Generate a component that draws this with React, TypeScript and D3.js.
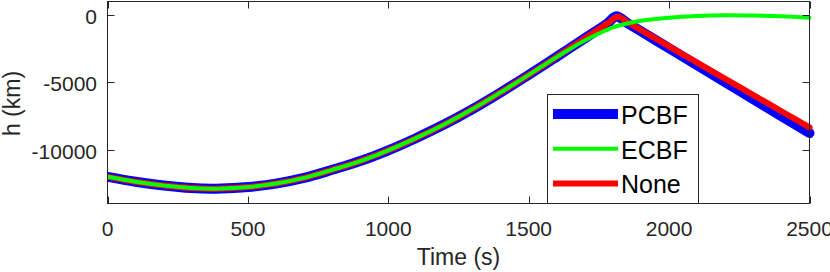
import React, { useEffect, useRef } from "react";
import * as d3 from "d3";

// PCBF trajectory
const pcbfTime = [0, 100, 200, 300, 370, 450, 500, 600, 700, 800, 900, 1000, 1100, 1200, 1300, 1400, 1500, 1600, 1700, 1780, 1812, 1850, 1900, 2000, 2100, 2200, 2300, 2400, 2500];
const pcbfH = [-12020, -12380, -12660, -12850, -12900, -12850, -12780, -12520, -12100, -11500, -10850, -10050, -9130, -8120, -6990, -5750, -4450, -3100, -1730, -640, -100, -580, -1210, -2470, -3730, -4990, -6250, -7510, -8770];

// ECBF trajectory
const ecbfTime = [0, 100, 200, 300, 370, 450, 500, 600, 700, 800, 900, 1000, 1100, 1200, 1300, 1400, 1500, 1550, 1600, 1650, 1700, 1750, 1800, 1850, 1900, 2000, 2100, 2200, 2300, 2400, 2500];
const ecbfH = [-12020, -12380, -12660, -12850, -12900, -12850, -12780, -12520, -12100, -11500, -10850, -10050, -9130, -8120, -6990, -5750, -4450, -3780, -3120, -2490, -1900, -1380, -920, -630, -430, -200, -70, -20, -40, -100, -200];

// no filter
const noneTime = [0, 100, 200, 300, 370, 450, 500, 600, 700, 800, 900, 1000, 1100, 1200, 1300, 1400, 1500, 1600, 1700, 1780, 1818, 1850, 1900, 2000, 2100, 2200, 2300, 2400, 2500];
const noneH = [-12020, -12380, -12660, -12850, -12900, -12850, -12780, -12520, -12100, -11500, -10850, -10050, -9130, -8120, -6990, -5750, -4450, -3100, -1730, -640, -130, -520, -1120, -2330, -3540, -4740, -5950, -7150, -8350];

const xTicks = [0, 500, 1000, 1500, 2000, 2500];
const yTicks = [0, -5000, -10000];
const legendNames = ["PCBF", "ECBF", "None"];

const W = 830;
const H = 272;
const left = 107.5, right = 809.5, top = 1.5, bottom = 203.5;
const axisColor = "#262626";
const font = "'Liberation Sans', Arial, sans-serif";

const App = () => {
  const ref = useRef<SVGSVGElement>(null);

  useEffect(() => {
    const svg = d3.select(ref.current);
    svg.selectAll("*").remove();

    const x = d3.scaleLinear().domain([0, 2500]).range([left, right]);
    const y = d3.scaleLinear().domain([-14000, 1000]).range([bottom, top]);

    svg.append("defs").append("clipPath").attr("id", "plotclip")
      .append("rect").attr("x", left).attr("y", 0).attr("width", W - left).attr("height", H);

    const line = d3.line<[number, number]>()
      .x(d => x(d[0]))
      .y(d => y(d[1]))
      .curve(d3.curveCatmullRom.alpha(0.5));

    const series = [
      { name: "PCBF", t: pcbfTime, h: pcbfH, color: "#0000ff", width: 10 },
      { name: "None", t: noneTime, h: noneH, color: "#ff0000", width: 6 },
      { name: "ECBF", t: ecbfTime, h: ecbfH, color: "#00ff00", width: 4 }
    ];

    const g = svg.append("g").attr("clip-path", "url(#plotclip)");
    series.forEach(s => {
      g.append("path")
        .datum(s.t.map((t, i) => [t, s.h[i]] as [number, number]))
        .attr("d", line)
        .attr("fill", "none")
        .attr("stroke", s.color)
        .attr("stroke-width", s.width)
        .attr("stroke-linejoin", "round")
        .attr("stroke-linecap", "round");
    });

    // axes box
    const ax = svg.append("g").attr("stroke", axisColor).attr("stroke-width", 1).attr("fill", "none");
    ax.append("rect").attr("x", left).attr("y", top).attr("width", right - left).attr("height", bottom - top);
    xTicks.forEach(t => {
      const px = Math.round(x(t)) + 0.5;
      ax.append("line").attr("x1", px).attr("x2", px).attr("y1", bottom).attr("y2", bottom - 7);
      ax.append("line").attr("x1", px).attr("x2", px).attr("y1", top).attr("y2", top + 7);
    });
    yTicks.forEach(v => {
      const py = Math.round(y(v)) + 0.5;
      ax.append("line").attr("x1", left).attr("x2", left + 7).attr("y1", py).attr("y2", py);
      ax.append("line").attr("x1", right).attr("x2", right - 7).attr("y1", py).attr("y2", py);
    });

    const txt = svg.append("g").attr("font-family", font).attr("fill", axisColor);
    xTicks.forEach(t => {
      txt.append("text").attr("x", x(t)).attr("y", 236).attr("text-anchor", "middle")
        .attr("font-size", 21).text(t);
    });
    yTicks.forEach(v => {
      txt.append("text").attr("x", 97).attr("y", y(v) + 9).attr("text-anchor", "end")
        .attr("font-size", 21).text(String(v));
    });
    txt.append("text").attr("x", (left + right) / 2).attr("y", 264.5).attr("text-anchor", "middle")
      .attr("font-size", 23).text("Time (s)");
    txt.append("text").attr("transform", "translate(19.5,103.5) rotate(-90)").attr("text-anchor", "middle")
      .attr("font-size", 23).text("h (km)");

    // legend
    const lg = svg.append("g");
    lg.append("rect").attr("x", 547.5).attr("y", 94.5).attr("width", 151).attr("height", bottom - 94.5)
      .attr("fill", "#ffffff").attr("stroke", axisColor).attr("stroke-width", 1);
    const legendStyle: Record<string, { color: string; width: number }> = {
      PCBF: { color: "#0000ff", width: 10 },
      ECBF: { color: "#00ff00", width: 4 },
      None: { color: "#ff0000", width: 6 }
    };
    legendNames.forEach((n, i) => {
      const ly = 114 + i * 34.7;
      lg.append("line").attr("x1", 553).attr("x2", 618).attr("y1", ly).attr("y2", ly)
        .attr("stroke", legendStyle[n].color).attr("stroke-width", legendStyle[n].width);
      lg.append("text").attr("x", 621).attr("y", ly + 10).attr("font-family", font)
        .attr("font-size", 25).attr("fill", "#000000").text(n);
    });
  }, []);

  return (
    <svg ref={ref} width={W} height={H} style={{ position: "absolute", left: 0, top: 0, background: "#fff" }} />
  );
};

export default App;
